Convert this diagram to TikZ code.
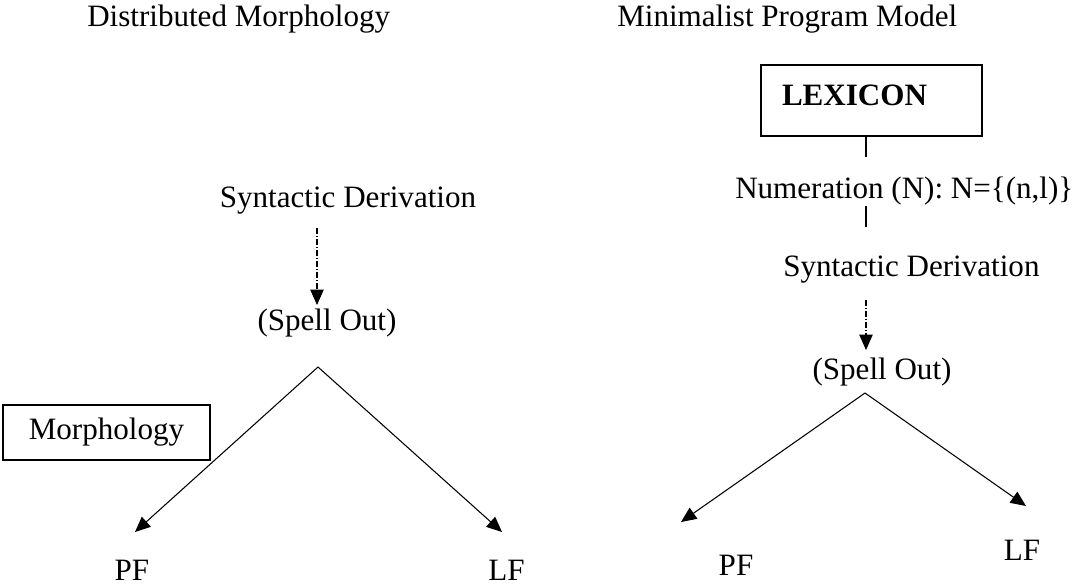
\documentclass[tikz,border=0pt]{standalone}
\usepackage{fontspec}
\setmainfont{Liberation Serif}
\usetikzlibrary{arrows.meta}
\begin{document}
\begin{tikzpicture}[x=0.75pt,y=-0.75pt,
  every node/.style={inner sep=0pt, font=\fontsize{23.3}{28}\selectfont},
  boxed/.style={draw, line width=0.9pt},
  conn/.style={line width=0.8pt},
  tip/.style={conn, -{Triangle[length=11.5pt,width=10pt]}},
  dotarrow/.style={tip, dash pattern=on 4.5pt off 1.5pt on 0.8pt off 1.5pt}]
\useasboundingbox (0,0) rectangle (1087,586);

% Distributed Morphology
\node[anchor=base west] (dmtitle) at (87,26) {Distributed Morphology};
\node[anchor=base] (syn1) at (348,207) {Syntactic Derivation};
\node[anchor=base] (spell1) at (327,330) {(Spell Out)};
\node[boxed, minimum width=155.25pt, minimum height=41.25pt] (morph) at (106.5,432.5) {Morphology};
\node[anchor=base] (pf1) at (132,580) {PF};
\node[anchor=base west] (lf1) at (488,580) {LF};
\coordinate (d1) at (317,228);
\coordinate (t1) at (317,305);
\coordinate (apex1) at (318,367);
\coordinate (tpf1) at (135,532);
\coordinate (tlf1) at (502,532);
\draw[dotarrow] (d1) -- (t1);
\draw[tip] (apex1) -- (tpf1);
\draw[tip] (apex1) -- (tlf1);

% Minimalist Program Model
\node[anchor=base west] (mptitle) at (617,26) {Minimalist Program Model};
\node[boxed, minimum width=165.75pt, minimum height=53.25pt, text width=134.25pt,
      align=left, inner xsep=15.75pt, text height=15.5pt, text depth=8.7pt] (lex) at (871.5,100.5) {\textbf{LEXICON}};
\node[anchor=base west] (num) at (735,198) {Numeration (N): N=\{(n,l)\}};
\node[anchor=base west] (syn2) at (783,276) {Syntactic Derivation};
\node[anchor=base] (spell2) at (882,379) {(Spell Out)};
\node[anchor=base] (pf2) at (736,575) {PF};
\node[anchor=base] (lf2) at (1022,560) {LF};
\coordinate (l1) at (866,157);
\coordinate (l2) at (866,206);
\coordinate (l3) at (866,227);
\coordinate (d2) at (866,300);
\coordinate (t2) at (866,350);
\coordinate (apex2) at (865,393);
\coordinate (tpf2) at (681,522);
\coordinate (tlf2) at (1026,506);
\draw[conn] (lex.south -| l1) -- (l1);
\draw[conn] (l2) -- (l3);
\draw[dotarrow] (d2) -- (t2);
\draw[tip] (apex2) -- (tpf2);
\draw[tip] (apex2) -- (tlf2);
\end{tikzpicture}
\end{document}
